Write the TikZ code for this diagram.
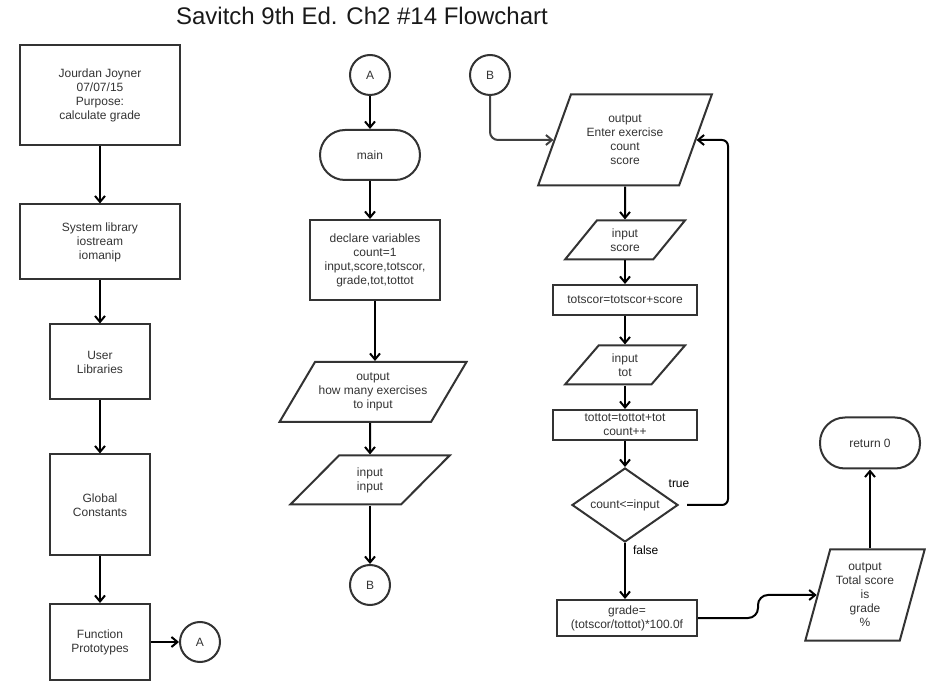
\documentclass[tikz,border=0pt]{standalone}
\usepackage{fontspec}
\setmainfont{Liberation Sans}
\usetikzlibrary{shapes.geometric, arrows.meta}

\begin{document}
\begin{tikzpicture}[
  x=1pt, y=-1pt,
  font=\fontsize{12pt}{14pt}\selectfont, text=black!80,
  box/.style={draw=black!80, line width=2pt, rectangle, align=center,
              inner sep=1pt},
  term/.style={draw=black!80, line width=2pt, rectangle, rounded corners=25pt,
               minimum width=100pt, minimum height=50pt, align=center},
  conn/.style={draw=black!80, line width=2pt, circle, minimum size=40pt,
               inner sep=0pt},
  io/.style 2 args={draw=black!80, line width=2pt, trapezium,
               trapezium stretches=true, trapezium left angle=#1,
               trapezium right angle=#2, inner sep=0pt, align=center},
  dec/.style={draw=black!80, line width=2pt, diamond, aspect=1.43,
              minimum width=106pt, minimum height=74pt, inner sep=0pt},
  arrow/.style={-{Straight Barb[length=6pt,width=10pt]}, line width=2pt, black},
  lbl/.style={inner sep=2pt},
]
  \useasboundingbox (0,0) rectangle (946,700);

  % Title
  \node[font=\fontsize{24pt}{28pt}\selectfont, text=black!90] (title) at (362,16)
    {Savitch 9th Ed. Ch2 \#14 Flowchart};

  % Left column
  \node[box, minimum width=160pt, minimum height=100pt] (hdr) at (100,95)
    {Jourdan Joyner\\07/07/15\\Purpose:\\calculate grade};
  \node[box, minimum width=160pt, minimum height=75pt] (syslib) at (100,242)
    {System library\\iostream\\iomanip};
  \node[box, minimum width=100pt, minimum height=75pt] (usrlib) at (100,362)
    {User\\Libraries};
  \node[box, minimum width=100pt, minimum height=101pt] (glob) at (100,505)
    {Global\\Constants};
  \node[box, minimum width=100pt, minimum height=76pt] (proto) at (100,642)
    {Function\\Prototypes};
  \node[conn] (aout) at (200,642) {A};

  % Middle column
  \node[conn] (ain) at (370,75) {A};
  \node[term] (main) at (370,155) {main};
  \node[box, minimum width=130pt, minimum height=80pt] (decl) at (375,260)
    {declare variables\\count=1\\input,score,totscor,\\grade,tot,tottot};
  \node[io={49}{131}, minimum width=187pt, minimum height=60pt] (askn) at (373,392)
    {output\\how many exercises\\to input};
  \node[io={51}{129}, minimum width=160pt, minimum height=49pt] (readn) at (370,480)
    {input\\input};
  \node[conn] (bout) at (370,585) {B};

  % Right column (loop)
  \node[conn] (bin) at (490,75) {B};
  \node[io={65}{115}, minimum width=174pt, minimum height=91pt] (askscore) at (625,140)
    {output\\Enter exercise\\count\\score};
  \node[io={54}{126}, minimum width=120pt, minimum height=39pt] (readscore) at (625,240)
    {input\\score};
  \node[box, minimum width=144pt, minimum height=30pt] (addscore) at (625,300)
    {totscor=totscor+score};
  \node[io={54}{126}, minimum width=120pt, minimum height=39pt] (readtot) at (625,365)
    {input\\tot};
  \node[box, minimum width=144pt, minimum height=30pt] (addtot) at (625,425)
    {tottot=tottot+tot\\count++};
  \node[dec] (cond) at (625,505) {count<=input};
  \node[box, minimum width=140pt, minimum height=36pt] (grade) at (627,618)
    {grade=\\(totscor/tottot)*100.0f};
  \coordinate (loop) at (728,140);

  % End
  \node[io={72}{108}, minimum width=120pt, minimum height=91pt] (showgrade) at (865,595)
    {output\\Total score\\is\\grade\\\%};
  \node[term, minimum height=51pt] (ret) at (870,443) {return 0};

  % Arrows
  \draw[arrow] (hdr) -- (syslib);
  \draw[arrow] (syslib) -- (usrlib);
  \draw[arrow] (usrlib) -- (glob);
  \draw[arrow] (glob) -- (proto);
  \draw[arrow] (proto) -- (aout);

  \draw[arrow] (ain) -- (main);
  \draw[arrow] (main) -- (main |- decl.north);
  \draw[arrow] (decl) -- (decl |- askn.north);
  \draw[arrow] (readn |- askn.south) -- (readn);
  \draw[arrow] (readn) -- (bout);

  \draw[arrow, black!75, rounded corners=8pt] (bin) |- (askscore.west);
  \draw[arrow] (askscore) -- (readscore);
  \draw[arrow] (readscore) -- (addscore);
  \draw[arrow] (addscore) -- (readtot);
  \draw[arrow] (readtot) -- (addtot);
  \draw[arrow] (addtot) -- (cond);
  \draw[arrow] (cond) -- node[lbl, pos=0, anchor=north west, xshift=5pt] {false}
    (cond |- grade.north);
  \draw[arrow, rounded corners=6pt, shorten <=8pt] (cond.east)
    node[lbl, above=14pt] {true} -| (loop) -- (askscore.east);

  \draw[arrow, rounded corners=10pt] (grade.east) -- ++(60,0) |- (showgrade.west);
  \draw[arrow] (ret |- showgrade.north) -- (ret);

\end{tikzpicture}
\end{document}
